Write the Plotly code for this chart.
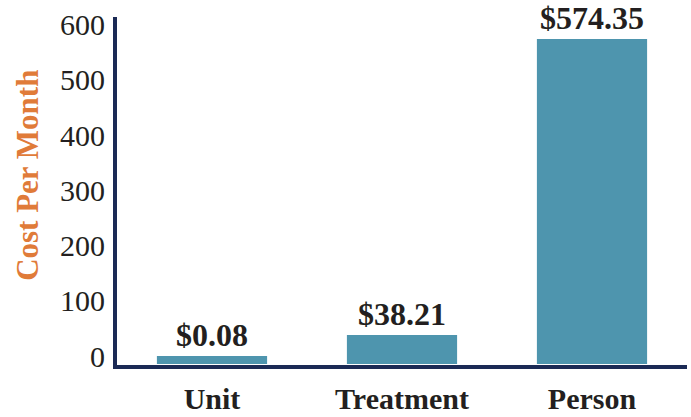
import plotly.graph_objects as go

categories = ["Unit", "Treatment", "Person"]
costs = [0.08, 38.21, 574.35]
cost_labels = ["$0.08", "$38.21", "$574.35"]
tick_values = [0, 100, 200, 300, 400, 500, 600]

BAR = "#4E95AE"
NAVY = "#1B2A55"
ORANGE = "#E07B39"
TXT = "#231F20"
FONT = "Liberation Serif, Times New Roman, serif"
BASE = -14  # bars are drawn down to the axis line, slightly below zero

fig = go.Figure(go.Bar(
    x=categories,
    y=[c - BASE for c in costs],
    base=BASE,
    marker=dict(color=BAR, line=dict(width=0)),
    text=["<b>%s</b>" % t for t in cost_labels],
    textposition="outside",
    textfont=dict(family=FONT, size=32, color=TXT),
    cliponaxis=False,
    width=0.58,
    hoverinfo="skip",
))

fig.update_layout(
    width=691, height=417,
    margin=dict(l=117, r=4, t=17, b=52),
    paper_bgcolor="white", plot_bgcolor="white",
    showlegend=False,
    font=dict(family=FONT),
    yaxis=dict(
        range=[-16, 614],
        tickvals=tick_values,
        ticktext=[str(v) for v in tick_values],
        tickfont=dict(family=FONT, size=30, color=TXT),
        showgrid=False, zeroline=False,
        showline=True, linecolor=NAVY, linewidth=4,
        ticks="",
        ticklabelstandoff=2,
        automargin=False,
    ),
    xaxis=dict(
        tickfont=dict(family=FONT, size=30, color=TXT),
        ticktext=["<b>%s</b>" % c for c in categories],
        tickvals=categories,
        showgrid=False, zeroline=False,
        showline=True, linecolor=NAVY, linewidth=4,
        ticks="",
        ticklabelstandoff=4,
        automargin=False,
    ),
    annotations=[dict(
        text="<b>Cost Per Month</b>",
        textangle=-90,
        xref="paper", yref="paper",
        x=-0.157, y=0.545,
        xanchor="center", yanchor="middle",
        showarrow=False,
        font=dict(family=FONT, size=31, color=ORANGE),
    )],
)

fig.write_html("out.html", config={"displayModeBar": False},
               post_script="document.body.style.margin='0';")
